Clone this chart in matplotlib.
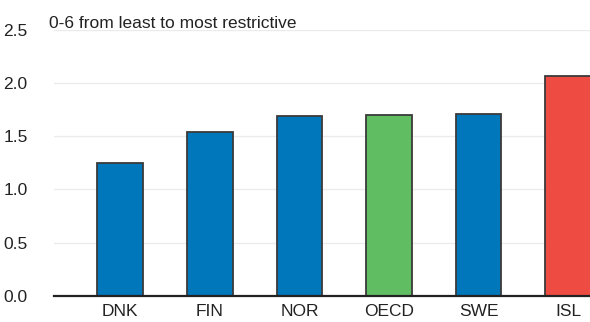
import matplotlib.pyplot as plt

countries = ["DNK", "FIN", "NOR", "OECD", "SWE", "ISL"]
values = [1.25, 1.54, 1.69, 1.70, 1.71, 2.07]
bar_colors = ["#0077BB", "#0077BB", "#0077BB", "#61BD61", "#0077BB", "#EE4B43"]
yticks = [0.0, 0.5, 1.0, 1.5, 2.0, 2.5]

plt.rcParams["font.family"] = ["Liberation Sans", "DejaVu Sans"]

fig = plt.figure(figsize=(5.9, 3.22), dpi=100)
ax = fig.add_axes([54 / 590, 26 / 322, 1 - 54 / 590, (296 - 29.7) / 322])

x = range(len(countries))
ax.bar(x, values, width=0.51, color=bar_colors, edgecolor="#3a3a3a", linewidth=1.3, zorder=3)

ax.set_xlim(-0.74, 5.245)
ax.set_ylim(0, 2.5)
ax.set_yticks(yticks)
ax.set_yticklabels([f"{v:.1f}" for v in yticks])
ax.set_xticks(list(x))
ax.set_xticklabels(countries)
ax.tick_params(axis="both", length=0, labelsize=12.5, colors="#222222")
ax.tick_params(axis="y", pad=19)
ax.tick_params(axis="x", pad=6)

ax.grid(True, axis="y", color="#ebebeb", linewidth=1.0, zorder=0)
ax.set_axisbelow(True)
for side in ("top", "right", "left"):
    ax.spines[side].set_visible(False)
ax.spines["bottom"].set_color("#222222")
ax.spines["bottom"].set_linewidth(1.6)
ax.spines["bottom"].set_zorder(4)

fig.text(49 / 590, 1 - 28 / 322, "0-6 from least to most restrictive",
         fontsize=12.5, color="#222222", ha="left", va="baseline")

fig.savefig("out.png", dpi=100)
